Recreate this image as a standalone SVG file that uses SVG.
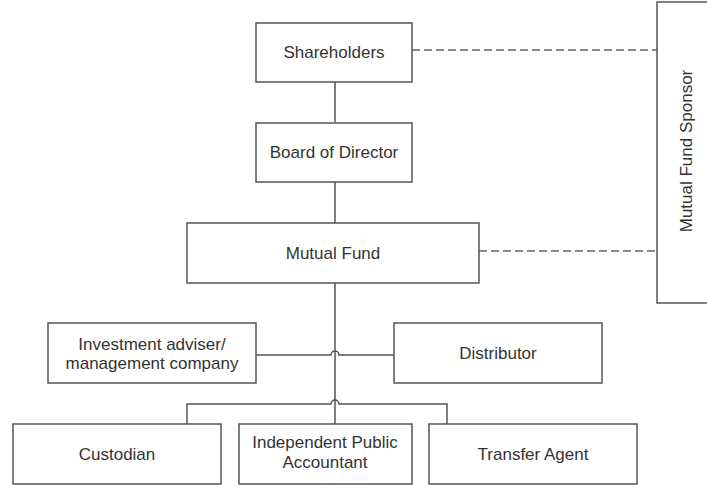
<svg xmlns="http://www.w3.org/2000/svg" width="707" height="488" viewBox="0 0 707 488">
  <style>
    .box { fill: #ffffff; stroke: #555555; stroke-width: 1.5; }
    .lbl { font-family: "Liberation Sans", Arial, sans-serif; font-size: 17px; fill: #333333; text-anchor: middle; }
    .wire { fill: none; stroke: #555555; stroke-width: 1.5; }
    .dash { fill: none; stroke: #666666; stroke-width: 1.5; stroke-dasharray: 8 4; }
  </style>
  <rect width="707" height="488" fill="#ffffff"/>

  <!-- connectors -->
  <g id="connectors">
    <path class="wire" d="M335 82 V122"/>
    <path class="wire" d="M335 182 V223"/>
    <path class="wire" d="M335 283 V424"/>
    <!-- adviser / distributor line hops over the trunk -->
    <path class="wire" d="M256 355 H331 A4 4 0 0 1 339 355 H394"/>
    <!-- service providers bus hops over the trunk -->
    <path class="wire" d="M187 424 V404 H331 A4 4 0 0 1 339 404 H447 V424"/>
    <path class="dash" d="M412 50 H657"/>
    <path class="dash" d="M479 251 H657"/>
  </g>

  <g id="shareholders">
    <rect class="box" x="256" y="23" width="156" height="59"/>
    <text class="lbl" x="334" y="58">Shareholders</text>
  </g>

  <g id="board">
    <rect class="box" x="256" y="123" width="156" height="59"/>
    <text class="lbl" x="334" y="158">Board of Director</text>
  </g>

  <g id="mutual-fund">
    <rect class="box" x="187" y="223" width="292" height="60"/>
    <text class="lbl" x="333" y="259">Mutual Fund</text>
  </g>

  <g id="sponsor">
    <rect class="box" x="657" y="2" width="70" height="301"/>
    <text class="lbl" transform="translate(692 151) rotate(-90)">Mutual Fund Sponsor</text>
  </g>

  <g id="adviser">
    <rect class="box" x="48" y="323" width="208" height="60"/>
    <text class="lbl" x="152" y="350">Investment adviser/</text>
    <text class="lbl" x="152" y="369">management company</text>
  </g>

  <g id="distributor">
    <rect class="box" x="394" y="323" width="208" height="60"/>
    <text class="lbl" x="498" y="359">Distributor</text>
  </g>

  <g id="custodian">
    <rect class="box" x="13" y="424" width="208" height="60"/>
    <text class="lbl" x="117" y="460">Custodian</text>
  </g>

  <g id="accountant">
    <rect class="box" x="239" y="424" width="173" height="60"/>
    <text class="lbl" x="325" y="448">Independent Public</text>
    <text class="lbl" x="325" y="468">Accountant</text>
  </g>

  <g id="transfer-agent">
    <rect class="box" x="429" y="424" width="208" height="60"/>
    <text class="lbl" x="533" y="460">Transfer Agent</text>
  </g>
</svg>
